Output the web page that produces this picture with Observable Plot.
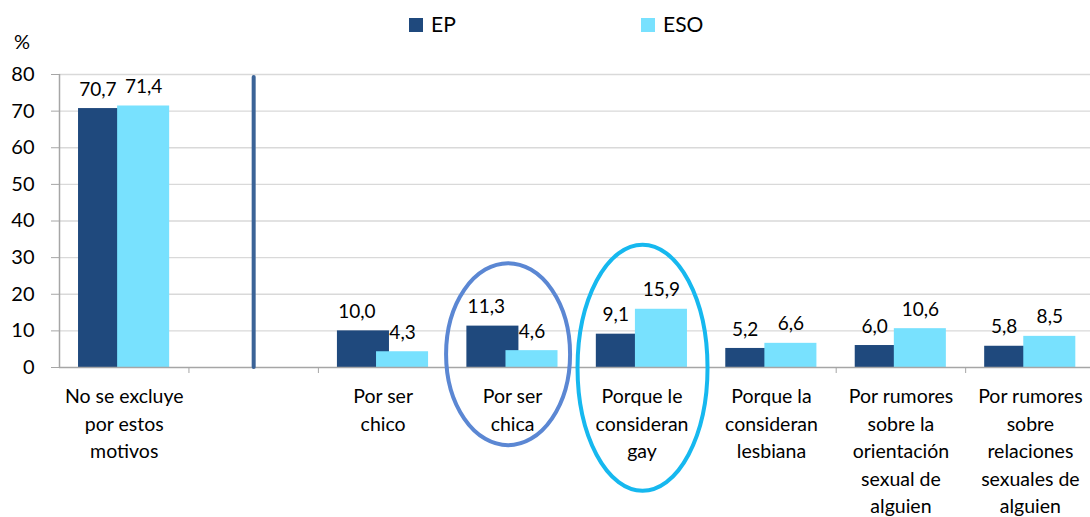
<!DOCTYPE html>
<html>
<head>
<meta charset="utf-8">
<script src="https://cdn.jsdelivr.net/npm/d3@7"></script>
<script src="https://cdn.jsdelivr.net/npm/@observablehq/plot@0.6"></script>
<style>
  html, body { margin: 0; padding: 0; background: #fff; }
  body { width: 1090px; height: 517px; position: relative; overflow: hidden; font-family: Lato, "Open Sans", sans-serif; }
  #chart { position: absolute; left: 0; top: 0; }
  .ov { position: absolute; color: #000; white-space: nowrap; }
  .sw { position: absolute; width: 14px; height: 14px; }
</style>
</head>
<body>
<div id="chart"></div>
<div class="ov" style="left:14px; top:29px; font-size:20px;">%</div>
<div class="sw" style="left:409px; top:18px; background:#1f497d;"></div>
<div class="ov" style="left:431px; top:11px; font-size:21px;">EP</div>
<div class="sw" style="left:641px; top:18px; background:#78e1fe;"></div>
<div class="ov" style="left:663px; top:11px; font-size:21px;">ESO</div>
<script>
const categories = [
  "No se excluye\npor estos\nmotivos",
  "",
  "Por ser\nchico",
  "Por ser\nchica",
  "Porque le\nconsideran\ngay",
  "Porque la\nconsideran\nlesbiana",
  "Por rumores\nsobre la\norientación\nsexual de\nalguien",
  "Por rumores\nsobre\nrelaciones\nsexuales de\nalguien"
];
const epValues  = [70.7, null, 10.0, 11.3, 9.1, 5.2, 6.0, 5.8];
const esoValues = [71.4, null, 4.3, 4.6, 15.9, 6.6, 10.6, 8.5];
const seriesNames = ["EP", "ESO"];
const seriesColors = ["#1f497d", "#78e1fe"];
const yTicks = [0, 10, 20, 30, 40, 50, 60, 70, 80];

const fmt = v => v.toFixed(1).replace(".", ",");

const rows = [];
categories.forEach((c, i) => {
  if (epValues[i] != null) rows.push({i, series: "EP", value: epValues[i]});
  if (esoValues[i] != null) rows.push({i, series: "ESO", value: esoValues[i]});
});
const epRows = rows.filter(d => d.series === "EP");
const esoRows = rows.filter(d => d.series === "ESO");

const bw = 0.402; // bar width in category units
const epX1 = d => d.i + 0.5 - 0.353;
const esoX1 = d => d.i + 0.5 - 0.051;

const grey = "#a6a6a6";
const plot = Plot.plot({
  width: 1090,
  height: 517,
  marginTop: 74,
  marginBottom: 150,
  marginLeft: 59,
  marginRight: 0,
  style: {fontFamily: "Lato, 'Open Sans', sans-serif", color: "#000", background: "transparent"},
  x: {type: "linear", domain: [0, 1031 / 129.45], axis: null},
  y: {domain: [0, 80], axis: null},
  marks: [
    Plot.gridY(yTicks.filter(t => t > 0), {stroke: "#d9d9d9", strokeOpacity: 1, strokeWidth: 1.3}),
    Plot.rectY(epRows, {x1: epX1, x2: d => epX1(d) + bw, y1: 0, y2: "value", fill: seriesColors[0]}),
    Plot.rectY(esoRows, {x1: esoX1, x2: d => esoX1(d) + bw, y1: 0, y2: "value", fill: seriesColors[1]}),
    Plot.ruleY([0], {stroke: grey, strokeWidth: 1.5}),
    Plot.ruleX([0], {y1: 0, y2: 80, stroke: grey, strokeWidth: 1.5}),
    Plot.axisY({ticks: yTicks, tickSize: 8, tickPadding: 17, fontSize: 20, stroke: grey, label: null, tickFormat: d => String(d)}),
    Plot.axisX({ticks: d3.range(1, 8), tickSize: 6, tickFormat: () => "", stroke: grey, label: null}),
    Plot.axisX({ticks: categories.map((c, i) => i + 0.5), tickSize: 0, tickPadding: 16, fontSize: 19.5, lineHeight: 1.41,
      tickFormat: v => categories[Math.floor(v)], label: null}),
    Plot.ruleX([1.5], {y1: 0, y2: 80, stroke: "#3b6397", strokeWidth: 4, strokeLinecap: "round", insetBottom: -3}),
    Plot.text(epRows, {x: d => epX1(d) + 0.15, y: "value", text: d => fmt(d.value), dy: -19, fontSize: 19}),
    Plot.text(esoRows, {x: d => esoX1(d) + bw / 2, y: "value", text: d => fmt(d.value), dy: -19, fontSize: 19})
  ]
});

// highlight ellipses around "Por ser chica" and "Porque le consideran gay"
const highlights = [
  {cat: 3, color: "#5b87d3", dx: -4, cyVal: 3.5, rx: 62, ry: 91},
  {cat: 4, color: "#16b8ef", dx: 1, cyVal: -0.2, rx: 65, ry: 123}
];
const sx = plot.scale("x"), sy = plot.scale("y");
const svg = d3.select(plot);
highlights.forEach(h => {
  svg.append("ellipse")
    .attr("cx", sx.apply(h.cat + 0.5) + h.dx)
    .attr("cy", sy.apply(h.cyVal))
    .attr("rx", h.rx)
    .attr("ry", h.ry)
    .attr("fill", "none")
    .attr("stroke", h.color)
    .attr("stroke-width", 4);
});
document.getElementById("chart").appendChild(plot);
</script>
</body>
</html>
